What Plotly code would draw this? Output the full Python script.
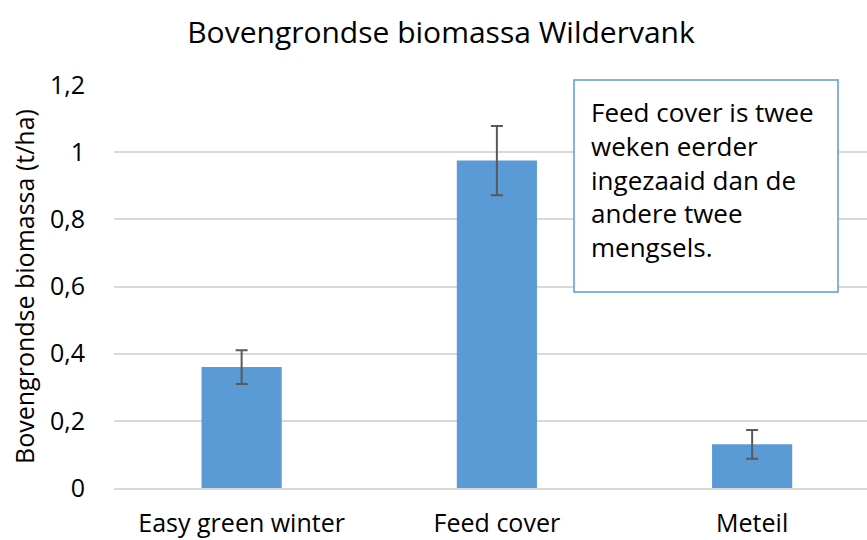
import plotly.graph_objects as go

categories = ["Easy green winter", "Feed cover", "Meteil"]
biomass = [0.36, 0.975, 0.13]
error = [0.05, 0.103, 0.043]
y_ticks = [0, 0.2, 0.4, 0.6, 0.8, 1.0, 1.2]
y_tick_labels = ["0", "0,2", "0,4", "0,6", "0,8", "1", "1,2"]
note = "Feed cover is twee<br>weken eerder<br>ingezaaid dan de<br>andere twee<br>mengsels."

FONT = "Open Sans"

fig = go.Figure()
fig.add_trace(go.Bar(
    x=categories, y=biomass, width=0.314,
    marker=dict(color="#5B9BD5", line=dict(width=0)),
    error_y=dict(type="data", array=error, color="#595959", thickness=2, width=6),
))

fig.update_layout(
    width=867, height=540,
    margin=dict(l=114, r=0, t=85, b=52),
    paper_bgcolor="white", plot_bgcolor="white",
    showlegend=False,
    title=dict(text="Bovengrondse biomassa Wildervank", x=441 / 867, xanchor="center",
               y=1 - 32 / 540, yanchor="middle",
               font=dict(family=FONT, size=30, color="#000000")),
    font=dict(family=FONT, color="#000000"),
)
fig.update_xaxes(range=[-0.5, 2.45], showgrid=False, showline=True, linecolor="#D9D9D9",
                 linewidth=1.5, ticks="", ticklabelstandoff=12,
                 tickfont=dict(size=25, family=FONT, color="#000"))
fig.update_yaxes(range=[0, 1.2], tickvals=y_ticks, ticktext=y_tick_labels,
                 showgrid=True, gridcolor="#D9D9D9", gridwidth=1.5, zeroline=False,
                 ticks="", ticklabelstandoff=28,
                 tickfont=dict(size=25, family=FONT, color="#000"),
                 title=dict(text="Bovengrondse biomassa (t/ha)", standoff=8,
                            font=dict(size=25, family=FONT, color="#000")))

fig.add_shape(type="rect", xref="paper", yref="paper",
              x0=(574 - 114) / 753, x1=(838 - 114) / 753,
              y0=(488 - 292) / 403, y1=(488 - 80) / 403,
              line=dict(color="#5B9BD5", width=1.5), fillcolor="white", layer="above")
fig.add_annotation(xref="paper", yref="paper",
                   x=(589 - 114) / 753, y=(488 - 92) / 403,
                   xanchor="left", yanchor="top", align="left", showarrow=False,
                   text=note, font=dict(family=FONT, size=26, color="#000"))

fig.write_html("out.html", config={"displayModeBar": False},
               post_script="document.body.style.margin='0';")
